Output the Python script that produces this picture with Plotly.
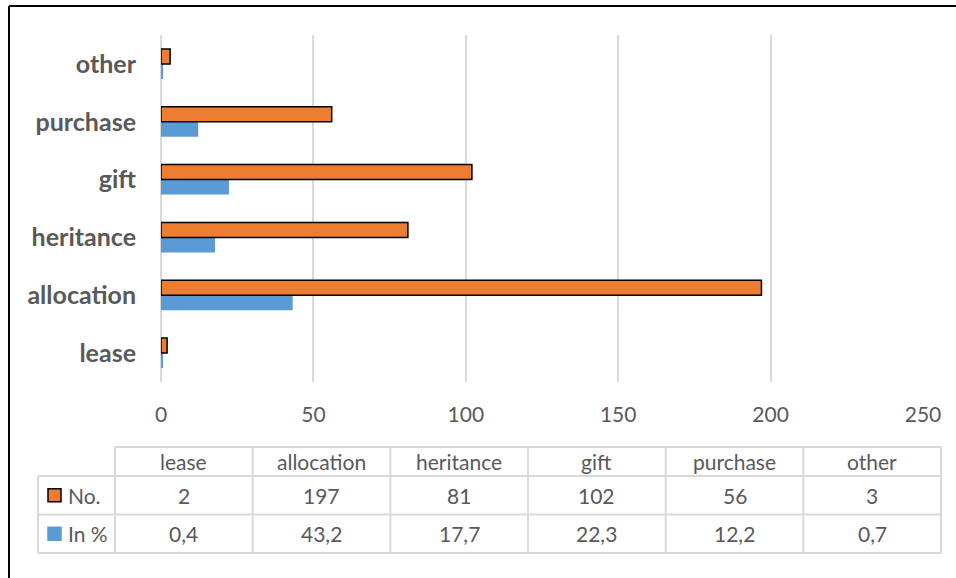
import plotly.graph_objects as go

# Data
categories = ["lease", "allocation", "heritance", "gift", "purchase", "other"]
counts = [2, 197, 81, 102, 56, 3]
percents = [0.4, 43.2, 17.7, 22.3, 12.2, 0.7]
series_names = ["No.", "In %"]
x_ticks = [0, 50, 100, 150, 200, 250]

ORANGE = "#ED7D31"
BLUE = "#5B9BD5"
GRID = "#D9D9D9"
TEXT = "#595959"
FONT = "Lato"

W, H = 956, 578
L, R, T, B = 161, 923, 35, 382  # plot area in pixels


def px(x):
    return (x - L) / (R - L)


def py(y):
    return (B - y) / (B - T)


fig = go.Figure()
# percentages first so the counts sit above them within each group
fig.add_trace(go.Bar(
    y=categories, x=percents, orientation="h", name=series_names[1],
    marker=dict(color=BLUE, line=dict(width=0)),
))
fig.add_trace(go.Bar(
    y=categories, x=counts, orientation="h", name=series_names[0],
    marker=dict(color=ORANGE, line=dict(color="black", width=1.5)),
))

shapes = []
annotations = []

# data table under the axis
col_edges = [115 + i * (941 - 115) / 6 for i in range(7)]
row_edges = [447, 476, 514.5, 553]
label_left = 38
line = dict(color=GRID, width=2)


def hline(x0, x1, y):
    shapes.append(dict(type="line", xref="paper", yref="paper",
                       x0=px(x0), x1=px(x1), y0=py(y), y1=py(y), line=line))


def vline(x, y0, y1):
    shapes.append(dict(type="line", xref="paper", yref="paper",
                       x0=px(x), x1=px(x), y0=py(y0), y1=py(y1), line=line))


hline(col_edges[0], col_edges[-1], row_edges[0])
for y in row_edges[1:]:
    hline(label_left, col_edges[-1], y)
for x in col_edges:
    vline(x, row_edges[0], row_edges[-1])
vline(label_left, row_edges[1], row_edges[-1])


def fmt(v):
    return f"{v:.1f}".replace(".", ",")


rows = [categories, [str(c) for c in counts], [fmt(p) for p in percents]]
for r, vals in enumerate(rows):
    yc = (row_edges[r] + row_edges[r + 1]) / 2
    for c, v in enumerate(vals):
        xc = (col_edges[c] + col_edges[c + 1]) / 2
        annotations.append(dict(
            x=px(xc), y=py(yc), xref="paper", yref="paper", text=v,
            showarrow=False, xanchor="center", yanchor="middle",
            font=dict(family=FONT, size=21, color=TEXT),
        ))

# legend keys in the row-label column
keys = [(ORANGE, "black", series_names[0]), (BLUE, BLUE, series_names[1])]
for i, (fill, edge, name) in enumerate(keys):
    yc = (row_edges[i + 1] + row_edges[i + 2]) / 2
    shapes.append(dict(type="rect", xref="paper", yref="paper",
                       x0=px(48), x1=px(61), y0=py(yc - 6.5), y1=py(yc + 6.5),
                       fillcolor=fill, line=dict(color=edge, width=1.5)))
    annotations.append(dict(
        x=px(66), y=py(yc), xref="paper", yref="paper", text=name,
        showarrow=False, xanchor="left", yanchor="middle",
        font=dict(family=FONT, size=21, color=TEXT),
    ))

# frame lines along top and left edges
frame = dict(color="black", width=2)
shapes.append(dict(type="line", xref="paper", yref="paper",
                   x0=px(9), x1=px(W + 5), y0=py(6), y1=py(6), line=frame))
shapes.append(dict(type="line", xref="paper", yref="paper",
                   x0=px(9), x1=px(9), y0=py(6), y1=py(H + 5), line=frame))

fig.update_layout(
    width=W, height=H,
    margin=dict(l=L, r=W - R, t=T, b=H - B, pad=0),
    paper_bgcolor="white", plot_bgcolor="white",
    barmode="group", bargap=0.48, bargroupgap=0,
    showlegend=False,
    xaxis=dict(range=[0, 250], tickvals=x_ticks, showgrid=True,
               gridcolor=GRID, gridwidth=2, zeroline=True, zerolinecolor=GRID,
               zerolinewidth=2, showline=False, ticks="",
               ticklabelstandoff=18,
               tickfont=dict(family=FONT, size=21, color=TEXT)),
    yaxis=dict(categoryorder="array", categoryarray=categories,
               showgrid=False, zeroline=False, showline=False, ticks="",
               ticklabelstandoff=24,
               tickfont=dict(family=FONT, size=25, color=TEXT, weight="bold")),
    shapes=shapes, annotations=annotations,
)

fig.write_html("out.html")
